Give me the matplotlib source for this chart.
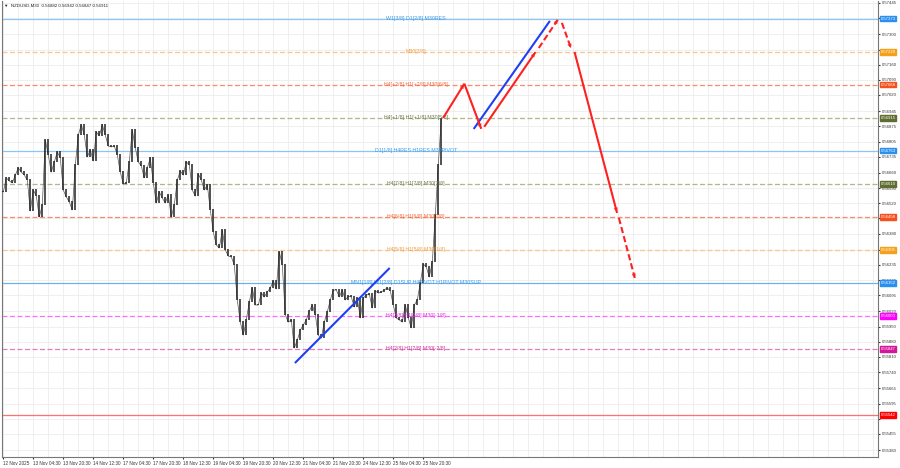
import matplotlib
matplotlib.use('Agg')
import matplotlib.pyplot as plt
import matplotlib.transforms as mtransforms

# NZDUSD M30 closes (one value per ~1.5h)
closes = [
    0.56572, 0.56637, 0.56623, 0.56614, 0.56650, 0.56683, 0.56664, 0.56650, 0.56627, 0.56484,
    0.56581, 0.56553, 0.56456, 0.56512, 0.56812, 0.56743, 0.56664, 0.56711, 0.56757, 0.56729,
    0.56581, 0.56549, 0.56526, 0.56489, 0.56697, 0.56835, 0.56882, 0.56835, 0.56734, 0.56766,
    0.56715, 0.56849, 0.56831, 0.56882, 0.56835, 0.56784, 0.56780, 0.56784, 0.56743, 0.56664,
    0.56609, 0.56614, 0.56711, 0.56858, 0.56775, 0.56711, 0.56692, 0.56637, 0.56683, 0.56729,
    0.56614, 0.56521, 0.56572, 0.56544, 0.56521, 0.56558, 0.56456, 0.56512, 0.56627, 0.56669,
    0.56650, 0.56711, 0.56697, 0.56581, 0.56553, 0.56655, 0.56627, 0.56581, 0.56604, 0.56489,
    0.56387, 0.56327, 0.56313, 0.56396, 0.56304, 0.56276, 0.56272, 0.56235, 0.56073, 0.55971,
    0.55911, 0.55981, 0.56064, 0.56129, 0.56050, 0.56050, 0.56105, 0.56087, 0.56110, 0.56129,
    0.56161, 0.56124, 0.56295, 0.56235, 0.56004, 0.55971, 0.55981, 0.55851, 0.55888, 0.55934,
    0.55958, 0.55981, 0.56022, 0.56050, 0.56004, 0.55911, 0.55897, 0.55971, 0.56018, 0.56073,
    0.56119, 0.56119, 0.56087, 0.56119, 0.56073, 0.56091, 0.56087, 0.56041, 0.56082, 0.55990,
    0.56082, 0.56096, 0.56101, 0.56036, 0.56115, 0.56105, 0.56110, 0.56119, 0.56129, 0.56115,
    0.56050, 0.55990, 0.55981, 0.55971, 0.56050, 0.55990, 0.55944, 0.56050, 0.56073, 0.56152,
    0.56239, 0.56225, 0.56179, 0.56249, 0.56466, 0.56697, 0.56911,
]

date_labels = ['12 Nov 2025', '13 Nov 04:30', '13 Nov 20:30', '14 Nov 12:30', '17 Nov 04:30',
               '17 Nov 20:30', '18 Nov 12:30', '19 Nov 04:30', '19 Nov 20:30', '20 Nov 12:30',
               '21 Nov 04:30', '21 Nov 20:30', '24 Nov 12:30', '25 Nov 04:30', '25 Nov 20:30']

price_ticks = [0.57445, 0.57375, 0.57300, 0.57230, 0.57160, 0.57090, 0.57020, 0.56945, 0.56875,
               0.56805, 0.56735, 0.56660, 0.56590, 0.56520, 0.56450, 0.56380, 0.56305, 0.56235,
               0.56165, 0.56095, 0.56020, 0.55950, 0.55880, 0.55810, 0.55740, 0.55665, 0.55595,
               0.55525, 0.55455, 0.55380]
hidden_ticks = [0.57375, 0.57230, 0.56450, 0.56305, 0.55525]

# Murrey levels
level_prices = [0.57373, 0.57220, 0.57068, 0.56915, 0.56763, 0.56610, 0.56458, 0.56305,
                0.56152, 0.56000, 0.55847, 0.55542]
level_names = ['W1[3/8] D1[2/8] M30RES', 'M30[7/8]', 'H4[+2/8] H1[+2/8] M30[6/8]',
               'H4[+1/8] H1[+1/8] M30[5/8]', 'D1[1/8] H4RES H1RES M30PIVOT',
               'H4[7/8] H1[7/8] M30[3/8]', 'H4[6/8] H1[6/8] M30[2/8]', 'H4[5/8] H1[5/8] M30[1/8]',
               'MN1[1/8] W1[2/8] D1SUP H4PIVOT H1PIVOT M30SUP', 'H4[3/8] H1[3/8] M30[-1/8]',
               'H4[2/8] H1[2/8] M30[-2/8]', '']
level_tags = ['0.57373', '0.57220', '0.57068', '0.56915', '0.56763', '0.56610', '0.56458',
              '0.56305', '0.56152', '0.56000', '0.55847', '0.55542']
line_colors = ['#8cc4f5', '#fcc58e', '#f88a6a', '#b5b58a', '#8cc4f5', '#b5b58a', '#f88a6a',
               '#fcc58e', '#6fb2ee', '#ff6cff', '#e47bbf', '#ff7070']
text_colors = ['#3a9be6', '#f0a040', '#f06a3c', '#6e7a45', '#3a9be6', '#6e7a45', '#f06a3c',
               '#f0a040', '#3a9be6', '#e22de2', '#d0309a', '#ff0000']
tag_colors = ['#2b8ff0', '#f5a01a', '#f4511e', '#5f6e30', '#2b8ff0', '#5f6e30', '#f4511e',
              '#f5a01a', '#2b8ff0', '#ff00ff', '#d4169a', '#ff0000']
dashed = [False, True, True, True, False, True, True, True, False, True, True, False]

# forecast path (bar units, price)
red_x0 = [147.3, 154.3, 161.0, 179.0, 186.7, 191.0, 205.7]
red_p0 = [0.56918, 0.57068, 0.56877, 0.57237, 0.57353, 0.57214, 0.56452]
red_x1 = [154.0, 159.7, 177.7, 185.3, 189.7, 205.0, 211.0]
red_p1 = [0.57068, 0.56868, 0.57214, 0.57367, 0.57237, 0.56480, 0.56175]
red_dash = [False, False, False, True, True, False, True]
blue_x0 = [97.7, 157.3]
blue_p0 = [0.55782, 0.56863]
blue_x1 = [129.3, 182.7]
blue_p1 = [0.56221, 0.57362]

fnt = 'Liberation Sans'

fig = plt.figure(figsize=(9, 4.68), dpi=100)
ax = fig.add_axes([0.002, 1 - 457 / 468, 876 / 900, 456 / 468])
ax.set_xlim(0, 292)
ax.set_ylim(0.55348, 0.57454)

# grid
ax.set_yticks(price_ticks)
ax.set_yticklabels(['' if p in hidden_ticks else '%.5f' % p for p in price_ticks],
                   fontfamily=fnt)
xt = [0.33 + 10 * k for k in range(len(date_labels))]
ax.set_xticks(xt)
ax.set_xticklabels(date_labels, fontfamily=fnt)
ax.set_xticks([0.33 + 5 * k for k in range(59)], minor=True)
ax.grid(True, which='both', color='#ececec', lw=0.6)
ax.set_axisbelow(True)
ax.yaxis.tick_right()
ax.tick_params(axis='y', labelsize=3.1, length=1.5, pad=1.5, colors='#333333')
ax.tick_params(axis='x', which='major', labelsize=3.3, length=1.5, pad=1.5, colors='#333333')
ax.tick_params(axis='x', which='minor', length=0)
for lab in ax.get_xticklabels():
    lab.set_ha('left')
ax.spines['top'].set_visible(False)
for s in ['left', 'right', 'bottom']:
    ax.spines[s].set_color('#777777')
    ax.spines[s].set_linewidth(0.8)

# levels
trans = mtransforms.blended_transform_factory(ax.transAxes, ax.transData)
for p, name, tag, lc, tc, bc, d in zip(level_prices, level_names, level_tags, line_colors,
                                        text_colors, tag_colors, dashed):
    if d:
        ax.axhline(p, color=lc, lw=0.9, ls=(0, (4, 2)), zorder=1)
    else:
        ax.axhline(p, color=lc, lw=0.9, ls='-', zorder=1)
    if name:
        ax.text(138, p, name, color=tc, fontsize=3.8, ha='center', va='center',
                family=fnt, zorder=4)
    ax.text(1.003, p, tag, transform=trans, color='white', fontsize=3.1, ha='left', va='center',
            family=fnt, bbox=dict(boxstyle='square,pad=0.2', fc=bc, ec=bc), zorder=6,
            clip_on=False)

# candles: body from previous close to close
opens = [closes[0]] + closes[:-1]
xs = [i + 0.5 for i in range(len(closes))]
ax.plot(xs, closes, color='#555555', lw=0.5, zorder=2)
for x, o, c in zip(xs, opens, closes):
    ax.vlines(x, min(o, c), max(o, c) + 0.00003, color='#222222', lw=1.1, zorder=3)

# forecast
ax.plot([blue_x0, blue_x1], [blue_p0, blue_p1], color='#1f3ff2', lw=1.5, zorder=5,
        solid_capstyle='butt')
for x0, p0, x1, p1, d in zip(red_x0, red_p0, red_x1, red_p1, red_dash):
    ax.plot([x0, x1], [p0, p1], color='#ff2020', lw=1.5, ls=(0, (3, 1.5)) if d else '-',
            zorder=5)
    ax.annotate('', xy=(x1, p1), xytext=(x1 - 0.02 * (x1 - x0), p1 - 0.02 * (p1 - p0)),
                arrowprops=dict(arrowstyle='-|>', color='#ff2020', lw=0.1,
                                mutation_scale=7, shrinkA=0, shrinkB=0), zorder=5)

fig.text(0.004, 0.993, '\u25bc  NZDUSD,M30  0.56882 0.56942 0.56847 0.56911', fontsize=3.2,
         color='#222222', va='top', ha='left', family=['Liberation Sans', 'DejaVu Sans'])

fig.savefig('out.png', dpi=100, facecolor='white')
